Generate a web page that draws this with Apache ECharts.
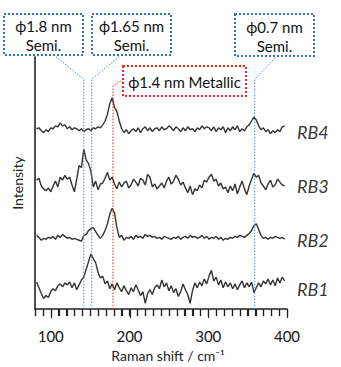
<!DOCTYPE html>
<html>
<head>
<meta charset="utf-8">
<script src="https://cdn.jsdelivr.net/npm/echarts@6/dist/echarts.min.js"></script>
<style>html,body{margin:0;padding:0;background:#fff}#c{width:341px;height:367px}</style>
</head>
<body>
<div id="c"></div>
<script>
// ---- data ----
const ramanShift = [
82,85,88,91,94,97,100,103,106,109,
112,115,118,121,124,127,130,133,136,139,
142,145,148,151,154,157,160,163,166,169,
172,175,178,181,184,187,190,193,196,199,
202,205,208,211,214,217,220,223,226,229,
232,235,238,241,244,247,250,253,256,259,
262,265,268,271,274,277,280,283,286,289,
292,295,298,301,304,307,310,313,316,319,
322,325,328,331,334,337,340,343,346,349,
352,355,358,361,364,367,370,373,376,379,
382,385,388,391,394,397];
const rb1 = [
4,-2,-8,-13,-10,-12,-6,-3,-5,0,
2,-1,3,1,4,-2,3,-4,1,6,
9,17,25,33,28,24,14,8,10,2,
5,-3,2,-4,3,-2,-6,0,-5,-9,
-2,-6,1,-4,-10,-6,-18,-8,-4,-9,
-2,1,-3,6,-1,3,-5,0,-7,-3,
-11,-6,2,-4,-9,-18,-5,3,-2,4,
0,7,2,10,16,5,9,1,6,-2,
4,-1,3,-3,2,-4,1,5,-2,3,
-1,4,-7,-2,3,-1,5,2,7,1,
6,0,8,3,9,5];
const rb2 = [
2,0,-3,-1,-2,0,-1,1,-2,2,
0,3,1,-1,0,-2,-1,-2,-3,-4,
2,3,7,9,10,6,2,-1,2,7,
14,24,30,25,10,0,2,-3,0,-1,
1,-2,2,0,1,-1,3,1,2,0,
1,-1,0,-2,1,0,-1,-2,0,-1,
1,-2,0,1,-1,2,0,1,-1,0,
2,-1,1,-2,0,-1,1,-2,0,-3,
-1,-2,0,-1,1,0,2,1,0,2,
4,7,12,14,8,2,-1,0,-2,0,
-1,1,0,-1,0,-2];
const rb3 = [
3,5,-3,-6,-8,-5,-9,-3,2,-4,
6,3,8,4,6,-2,-9,4,18,16,
35,24,20,12,-4,2,-7,-1,0,5,
11,3,6,-1,-6,1,-4,0,2,-5,
-2,4,1,-3,5,3,-2,9,6,-4,
-1,-6,-3,0,-5,2,6,-1,2,8,
4,-2,1,-5,-10,-3,-12,-6,-8,-2,
-5,3,1,6,9,2,4,-3,0,-6,
-4,-10,-3,-8,-1,-11,-4,2,-6,-12,
-3,4,10,6,8,0,-3,-7,-1,3,
-4,-2,4,1,-2,-3];
const rb4 = [
0,1,-2,-4,-1,-3,1,0,3,2,
6,3,4,0,2,-1,1,0,-2,0,
-3,-1,0,-2,1,0,2,1,4,8,
15,26,32,22,18,8,0,-4,-1,-5,
-2,0,-3,1,-4,0,2,-2,1,-3,
0,1,-2,2,-1,0,3,1,-2,2,
0,-3,1,-2,2,-1,0,-3,1,-1,
3,0,2,1,-2,2,-3,1,-1,2,
-4,1,-2,2,-1,3,-3,0,-2,2,
4,8,12,9,3,-1,1,-3,-1,-5,
-2,-4,-1,-3,2,3];
const spectra = [rb1, rb2, rb3, rb4];
const seriesNames = ['RB1', 'RB2', 'RB3', 'RB4'];
const stackOffsets = [24, 74, 130, 186];
const xTickLabels = [100, 200, 300, 400];
const xTickValues = [80,90,100,110,120,130,140,150,160,170,180,190,200,210,220,230,240,
  250,260,270,280,290,300,310,320,330,340,350,360,370,380,390,400];
const bandShifts = [142, 152, 179, 359];
const bandTexts = ['ϕ1.8 nm\nSemi.', 'ϕ1.65 nm\nSemi.', 'ϕ1.4 nm Metallic', 'ϕ0.7 nm\nSemi.'];

// ---- layout ----
const FONT = 'Lato, "Open Sans", "DejaVu Sans", sans-serif';
const W = 341, H = 367;
const G = {left: 35, right: 54, top: 57, bottom: 50};
const X_MIN = 80, X_MAX = 400, Y_MIN = 0, Y_MAX = 260;
const pxToX = px => X_MIN + (px - G.left) * (X_MAX - X_MIN) / (W - G.left - G.right);
const pxToY = py => Y_MIN + (H - G.bottom - py) * (Y_MAX - Y_MIN) / (H - G.top - G.bottom);

const BLUE_BOX = '#2e75b6', BLUE_LINE = '#4a8fd0', RED = '#ff2020';
const boxes = [
  {x: 4, y: 14, w: 79, h: 41, color: BLUE_BOX, line: BLUE_LINE, knee: 80, anchor: [55, 56]},
  {x: 92, y: 14, w: 79, h: 41, color: BLUE_BOX, line: BLUE_LINE, knee: 80, anchor: [120, 56]},
  {x: 123, y: 66, w: 123, h: 30, color: RED, line: RED, knee: 87, anchor: [120, 82], tail: [123, 82]},
  {x: 235, y: 14, w: 79, h: 42, color: BLUE_BOX, line: BLUE_LINE, knee: 80, anchor: [276, 57]}
];

const chart = echarts.init(document.getElementById('c'), null, {renderer: 'svg'});

const series = [];
spectra.forEach((vals, k) => {
  series.push({
    type: 'line', name: seriesNames[k], showSymbol: false, symbol: 'none',
    lineStyle: {color: '#333', width: 1.4}, animation: false,
    data: ramanShift.map((x, i) => [x, vals[i] + stackOffsets[k]])
  });
  series.push({
    type: 'scatter', symbolSize: 0, animation: false, silent: true,
    data: [[400, stackOffsets[k] - 3]],
    label: {show: true, position: 'right', distance: 10, formatter: seriesNames[k],
      fontStyle: 'italic', fontSize: 18, color: '#000', fontFamily: FONT}
  });
});

const graphics = [];
bandShifts.forEach((s, i) => {
  const b = boxes[i];
  const pts = [[s, Y_MIN], [s, pxToY(b.knee)], [pxToX(b.anchor[0]), pxToY(b.anchor[1])]];
  if (b.tail) pts.push([pxToX(b.tail[0]), pxToY(b.tail[1])]);
  series.push({
    type: 'line', symbol: 'none', showSymbol: false, clip: false, silent: true, animation: false,
    z: 4, lineStyle: {color: b.line, width: 1, type: [1.5, 1.5]}, data: pts
  });
  graphics.push({type: 'rect', z: 100, shape: {x: b.x, y: b.y, width: b.w, height: b.h},
    style: {fill: '#fff', stroke: b.color, lineWidth: 2, lineDash: [2, 2]}});
  graphics.push({type: 'text', z: 101, style: {text: bandTexts[i], x: b.x + b.w / 2, y: b.y + b.h / 2 + 1,
    textAlign: 'center', textVerticalAlign: 'middle', fontSize: 15, lineHeight: 19,
    fontFamily: FONT, fill: '#111'}});
});

chart.setOption({
  animation: false,
  grid: G,
  xAxis: {
    type: 'value', min: X_MIN, max: X_MAX, interval: 10,
    name: 'Raman shift / cm⁻¹', nameLocation: 'middle', nameGap: 33,
    nameTextStyle: {fontSize: 14, color: '#222', fontFamily: FONT, padding: [0, 0, 0, 14]},
    axisLine: {show: true, lineStyle: {color: '#222', width: 1.6}},
    axisTick: {show: true, length: 7, lineStyle: {color: '#222', width: 1.2}},
    axisLabel: {margin: 19, fontSize: 15, color: '#111', fontFamily: FONT,
      formatter: v => (xTickLabels.indexOf(v) >= 0 ? String(v) : '')},
    splitLine: {show: false}
  },
  yAxis: {
    type: 'value', min: Y_MIN, max: Y_MAX,
    name: 'Intensity', nameLocation: 'middle', nameGap: 11,
    nameTextStyle: {fontSize: 14, color: '#222', fontFamily: FONT},
    axisLine: {show: true, lineStyle: {color: '#222', width: 1.6}},
    axisTick: {show: false}, axisLabel: {show: false}, splitLine: {show: false}
  },
  graphic: graphics,
  series: series
});

// tick marks placed at the tick values through the x scale (drawn on top)
const tickMarks = xTickValues.map(v => {
  const p = chart.convertToPixel({gridIndex: 0}, [v, Y_MIN]);
  const len = xTickLabels.indexOf(v) >= 0 ? 9 : 7;
  const xx = Math.round(p[0]) + 0.5;
  return {type: 'line', z: 200, shape: {x1: xx, y1: p[1], x2: xx, y2: p[1] + len},
    style: {stroke: '#222', lineWidth: 1.2}};
});
chart.setOption({graphic: graphics.concat(tickMarks)});
</script>
</body>
</html>
